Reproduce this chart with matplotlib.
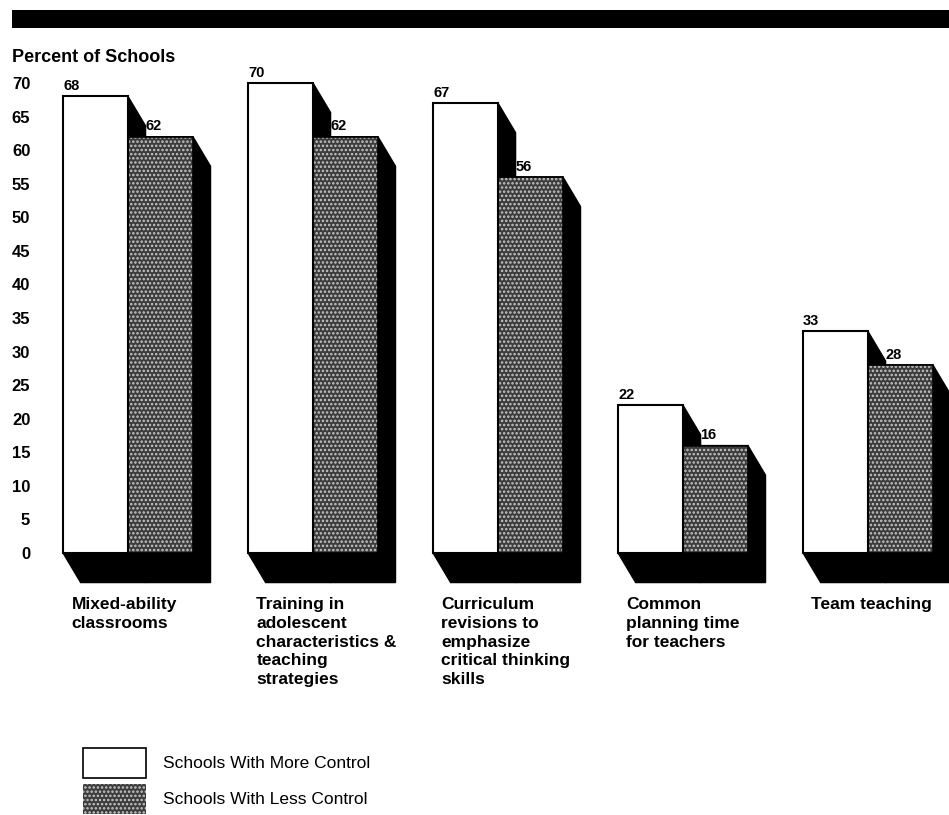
import matplotlib
matplotlib.use('Agg')
import matplotlib.pyplot as plt
from matplotlib.patches import Rectangle, Polygon

plt.rcParams['font.family'] = ['Liberation Sans', 'DejaVu Sans']
plt.rcParams['hatch.linewidth'] = 1.2

# data
categories = ['Mixed-ability\nclassrooms',
              'Training in\nadolescent\ncharacteristics &\nteaching\nstrategies',
              'Curriculum\nrevisions to\nemphasize\ncritical thinking\nskills',
              'Common\nplanning time\nfor teachers',
              'Team teaching']
more_control = [68, 70, 67, 22, 33]
less_control = [62, 62, 56, 16, 28]
yticks = list(range(0, 75, 5))
series_names = ['Schools With More Control', 'Schools With Less Control']

W, H = 949, 815
fig = plt.figure(figsize=(W / 100, H / 100), dpi=100)

# axes placed so that value 0 sits at pixel row 553 and 70 at row 83
ax = fig.add_axes([40 / W, (H - 553) / H, 909 / W, 470 / H])
ax.set_xlim(-0.4757, 4.4378)
ax.set_ylim(0, 70)
for s in ax.spines.values():
    s.set_visible(False)
ax.set_xticks([])
ax.set_yticks(yticks)
ax.set_yticklabels([str(t) for t in yticks], fontsize=12, fontweight='bold')
ax.tick_params(axis='y', length=0, pad=7)
for lab in ax.get_yticklabels():
    lab.set_horizontalalignment('right')

bw = 0.351      # bar width
dx, dy = 0.095, 4.4   # depth of the 3D extrusion

def extrusion(x0, x1, h):
    return [(x0, h), (x1, h), (x1 + dx, h - dy), (x1 + dx, -dy),
            (x0 + dx, -dy), (x0, 0)]

for i, (a, b) in enumerate(zip(more_control, less_control)):
    xa, xb = i - bw, i
    # black depth shapes
    for x0, h in [(xa, a), (xb, b)]:
        ax.add_patch(Polygon(extrusion(x0, x0 + bw, h), closed=True,
                             facecolor='black', edgecolor='black', lw=1,
                             clip_on=False, zorder=1))
    # white bar
    ax.add_patch(Rectangle((xa, 0), bw, a, facecolor='white', edgecolor='black',
                           lw=1.5, clip_on=False, zorder=3))
    # dotted dark bar
    ax.add_patch(Rectangle((xb, 0), bw, b, facecolor='#3c3c3c', edgecolor='#c8c8c8',
                           hatch='....', lw=0, clip_on=False, zorder=2))
    ax.add_patch(Rectangle((xb, 0), bw, b, fill=False, edgecolor='black',
                           lw=1.2, clip_on=False, zorder=2.5))
    ax.text(xa, a + 0.5, str(a), fontsize=10.5, fontweight='bold',
            ha='left', va='bottom', clip_on=False)
    ax.text(xb + dx, b + 0.5, str(b), fontsize=10.5, fontweight='bold',
            ha='left', va='bottom', clip_on=False)
    ax.text(xa + 0.045, -6.6, categories[i], fontsize=12.5, fontweight='bold',
            ha='left', va='top', linespacing=1.3, clip_on=False)

# header band and axis title
fig.patches.append(Rectangle((12 / W, 1 - 28 / H), (W - 12) / W, 18 / H,
                             transform=fig.transFigure, facecolor='black',
                             edgecolor='none'))
fig.text(12 / W, 1 - 58 / H, 'Percent of Schools', fontsize=13, fontweight='bold',
         ha='left', va='center')

# legend
lx, lw_, lh = 83 / W, 63 / W, 30 / H
fig.patches.append(Rectangle((lx, 1 - 778 / H), lw_, lh, transform=fig.transFigure,
                             facecolor='white', edgecolor='black', lw=1.2))
fig.patches.append(Rectangle((lx, 1 - 814 / H), lw_, lh, transform=fig.transFigure,
                             facecolor='#3c3c3c', edgecolor='#c8c8c8', hatch='....',
                             lw=0))
fig.text(163 / W, 1 - 763 / H, series_names[0], fontsize=12.5, ha='left', va='center')
fig.text(163 / W, 1 - 800 / H, series_names[1], fontsize=12.5, ha='left', va='center')

fig.savefig('out.png', dpi=100)
